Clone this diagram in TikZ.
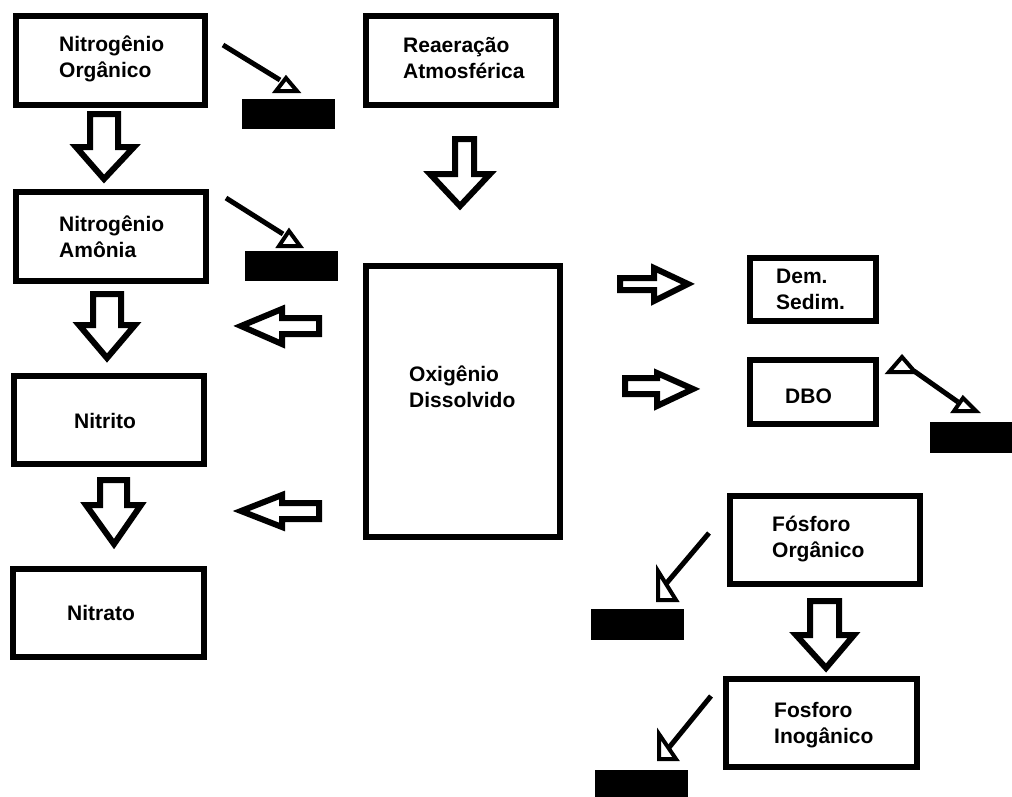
\documentclass[tikz,border=0pt]{standalone}
\usepackage{fontspec}
\setmainfont{Liberation Sans}
\begin{document}
\begin{tikzpicture}[x=1pt,y=-1pt,
  box/.style={draw=black,line width=6pt,rectangle,inner sep=0pt},
  sedbox/.style={fill=black,draw=none,rectangle,inner sep=0pt},
  lbl/.style={font=\fontsize{21}{26}\selectfont\bfseries,align=left,inner sep=0pt,anchor=base west},
  blockarrow/.style={draw=black,line width=6pt,line join=miter,fill=white},
  settle/.style={draw=black,line width=5pt},
  settletip/.style={draw=black,line width=4pt,fill=white,line join=miter}]
\useasboundingbox (0,0) rectangle (1012,796);
\fill[white] (0,0) rectangle (1012,796);
% boxes
\node[box,minimum width=189pt,minimum height=89pt] (norg) at (110.5,60.5) {};
\node[box,minimum width=190pt,minimum height=89pt] (namo) at (111,236.5) {};
\node[box,minimum width=190pt,minimum height=88pt] (nitrito) at (109,420) {};
\node[box,minimum width=191pt,minimum height=88pt] (nitrato) at (108.5,613) {};
\node[box,minimum width=190pt,minimum height=89pt] (reaer) at (461,60.5) {};
\node[box,minimum width=194pt,minimum height=271pt] (oxig) at (463,401.5) {};
\node[box,minimum width=126pt,minimum height=63pt] (dem) at (813,289.5) {};
\node[box,minimum width=126pt,minimum height=64pt] (dbo) at (813,392) {};
\node[box,minimum width=190pt,minimum height=88pt] (forg) at (825,540) {};
\node[box,minimum width=191pt,minimum height=88pt] (finorg) at (821.5,723) {};
% labels (base = baseline of last line)
\node[lbl] (tnorg) at (59,77) {Nitrogênio\\Orgânico};
\node[lbl] (tnamo) at (59,257) {Nitrogênio\\Amônia};
\node[lbl] (tnitrito) at (74,428) {Nitrito};
\node[lbl] (tnitrato) at (67,620) {Nitrato};
\node[lbl] (treaer) at (403,78) {Reaeração\\Atmosférica};
\node[lbl] (toxig) at (409,407) {Oxigênio\\Dissolvido};
\node[lbl] (tdem) at (776,309) {Dem.\\Sedim.};
\node[lbl] (tdbo) at (785,403) {DBO};
\node[lbl] (tforg) at (772,557) {Fósforo\\Orgânico};
\node[lbl] (tfinorg) at (774,743) {Fosforo\\Inogânico};
% sediment blocks
\node[sedbox,minimum width=93pt,minimum height=30pt] (sed1) at (288.5,114) {};
\node[sedbox,minimum width=93pt,minimum height=30pt] (sed2) at (291.5,266) {};
\node[sedbox,minimum width=86pt,minimum height=31pt] (sed3) at (973,437.5) {};
\node[sedbox,minimum width=93pt,minimum height=31pt] (sed4) at (637.5,624.5) {};
\node[sedbox,minimum width=93pt,minimum height=31pt] (sed5) at (641.5,785) {};
% settling arrows
\coordinate (s1a) at (223,45); \coordinate (s1b) at (280,80);
\draw[settle] (s1a) -- (s1b);
\draw[settletip] (286,78) -- (276,91) -- (297,91) -- cycle;
\coordinate (s2a) at (226,198); \coordinate (s2b) at (283,234);
\draw[settle] (s2a) -- (s2b);
\draw[settletip] (289,231) -- (279,246) -- (300,246) -- cycle;
\draw[settletip] (902,357) -- (889,372) -- (915,372) -- cycle;
\coordinate (s3a) at (914,371); \coordinate (s3b) at (958,402);
\draw[settle] (s3a) -- (s3b);
\draw[settletip] (963,398) -- (954,411) -- (976,411) -- cycle;
\coordinate (s4a) at (709,533); \coordinate (s4b) at (665,585);
\draw[settle] (s4a) -- (s4b);
\draw[settletip] (658,571) -- (658,600) -- (676,600) -- cycle;
\coordinate (s5a) at (711,696); \coordinate (s5b) at (667,750);
\draw[settle] (s5a) -- (s5b);
\draw[settletip] (659,734) -- (659,759) -- (676,759) -- cycle;
% block arrows (down)
\draw[blockarrow] (90,114) -- (118,114) -- (118,147) -- (134,147) -- (104,179) -- (76,147) -- (90,147) -- cycle;
\draw[blockarrow] (93,294) -- (121,294) -- (121,325) -- (135,325) -- (107,358) -- (79,325) -- (93,325) -- cycle;
\draw[blockarrow] (100,480) -- (127,480) -- (127,505) -- (141,505) -- (114,544) -- (86,505) -- (100,505) -- cycle;
\draw[blockarrow] (455,139) -- (474,139) -- (474,174) -- (490,174) -- (460,206) -- (430,174) -- (455,174) -- cycle;
\draw[blockarrow] (810,601) -- (839,601) -- (839,635) -- (854,635) -- (826,668) -- (796,635) -- (810,635) -- cycle;
% block arrows (left)
\draw[blockarrow] (319,318) -- (319,334) -- (282,334) -- (282,344) -- (241,326) -- (282,309) -- (282,318) -- cycle;
\draw[blockarrow] (319,503) -- (319,519) -- (282,519) -- (282,527) -- (241,511) -- (282,495) -- (282,503) -- cycle;
% block arrows (right)
\draw[blockarrow] (620,278) -- (654,278) -- (654,268) -- (688,284) -- (654,301) -- (654,290) -- (620,290) -- cycle;
\draw[blockarrow] (625,378) -- (657,378) -- (657,373) -- (693,389) -- (657,406) -- (657,394) -- (625,394) -- cycle;
\end{tikzpicture}
\end{document}
